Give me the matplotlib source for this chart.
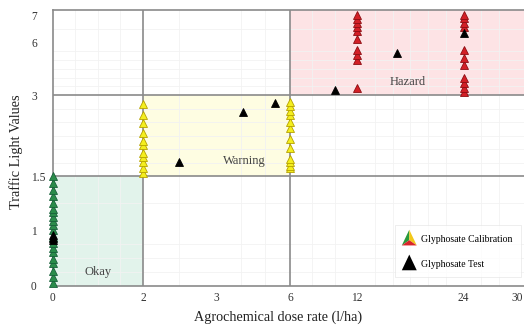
import numpy as np
import matplotlib
matplotlib.use("Agg")
import matplotlib.pyplot as plt
from matplotlib.legend_handler import HandlerBase
from matplotlib.patches import Polygon, Rectangle
from matplotlib.lines import Line2D
from matplotlib.ticker import FixedLocator, NullLocator

# ---- data -----------------------------------------------------------------
x_ticks = [0, 2, 3, 6, 12, 24, 30]
y_ticks = [0, 1, 1.5, 3, 6, 7]

# calibration readings (dose rate l/ha -> traffic light value)
okay_dose = 0
okay_values = [0.04, 0.15, 0.27, 0.40, 0.49, 0.60, 0.69, 0.78, 0.88, 1.00, 1.05,
               1.09, 1.12, 1.17, 1.20, 1.25, 1.32, 1.37, 1.44, 1.50]
warn_low_dose = 2
warn_low_values = [1.56, 1.65, 1.76, 1.85, 1.94, 2.08, 2.15, 2.31, 2.48, 2.63, 2.83]
warn_high_dose = 6
warn_high_values = [1.65, 1.70, 1.76, 1.83, 2.02, 2.20, 2.39, 2.50, 2.63, 2.70, 2.80, 2.87]
hazard_low_dose = 12
hazard_low_values = [3.40, 4.98, 5.26, 5.54, 6.11, 6.40, 6.55, 6.70, 6.85, 7.00]
hazard_high_dose = 24
hazard_high_values = [3.17, 3.40, 3.68, 3.96, 4.69, 5.09, 5.54, 6.55, 6.70, 6.90, 7.00]

# test readings
test_dose = [0, 0, 0, 2.5, 4.1, 5.4, 10, 16.5, 24]
test_values = [0.82, 0.87, 0.92, 1.76, 2.69, 2.85, 3.28, 5.37, 6.33]

# ---- piecewise axis scales --------------------------------------------------
X_KNOTS = np.array([-10, 0, 2, 3, 6, 12, 30, 40], float)
X_POS = np.array([-397, 53, 143, 216, 290, 357, 517, 605.9], float)
Y_KNOTS = np.array([-5, 0, 1, 1.5, 3, 6, 7, 10], float)
Y_POS = np.array([-275, 0, 55, 109, 190, 243, 270, 351], float)


def make_scale(knots, pos):
    def fwd(v):
        return np.interp(v, knots, pos)

    def inv(p):
        return np.interp(p, pos, knots)
    return fwd, inv


serif = "Liberation Serif"
plt.rcParams["font.family"] = serif

fig = plt.figure(figsize=(5.24, 3.27), dpi=100)
ax = fig.add_axes([0.1011, 0.1269, 0.899, 0.8425])
ax.set_xscale("function", functions=make_scale(X_KNOTS, X_POS))
ax.set_yscale("function", functions=make_scale(Y_KNOTS, Y_POS))
ax.set_xlim(0, 30.8)
ax.set_ylim(0, 7.19)

# traffic-light zones
ax.add_patch(Rectangle((0, 0), 2, 1.5, facecolor="#e2f3eb", edgecolor="none", zorder=0))
ax.add_patch(Rectangle((2, 1.5), 4, 1.5, facecolor="#fefde2", edgecolor="none", zorder=0))
ax.add_patch(Rectangle((6, 3), 30, 5, facecolor="#fde3e5", edgecolor="none", zorder=0))

# faint background grid
for xv in [0.5, 1, 1.5, 2.5, 4, 5, 8, 10, 14, 16, 18, 20, 22, 26, 28]:
    ax.axvline(xv, color="#f2f2f2", lw=0.6, zorder=0.5)
for yv in [0.25, 0.5, 0.75, 1.25, 1.75, 2, 2.25, 2.5, 2.75, 3.5, 4, 4.5, 5, 5.5, 6.5]:
    ax.axhline(yv, color="#f2f2f2", lw=0.6, zorder=0.5)

# zone boundaries
for xv in [2, 6]:
    ax.axvline(xv, color="#8a8a8a", lw=1.2, zorder=1)
for yv in [1.5, 3]:
    ax.axhline(yv, color="#8a8a8a", lw=1.2, zorder=1)

ms = 5.5
kw = dict(marker="^", linestyle="none", markersize=ms, markeredgewidth=0.6,
          clip_on=False, zorder=3)
ax.plot([okay_dose] * len(okay_values), okay_values,
        color="#2a8c4a", markeredgecolor="#17603a", **kw)
ax.plot([warn_low_dose] * len(warn_low_values), warn_low_values,
        color="#f4ee1e", markeredgecolor="#b5a100", **kw)
ax.plot([warn_high_dose] * len(warn_high_values), warn_high_values,
        color="#f4ee1e", markeredgecolor="#b5a100", **kw)
ax.plot([hazard_low_dose] * len(hazard_low_values), hazard_low_values,
        color="#d31f26", markeredgecolor="#8c0d12", **kw)
ax.plot([hazard_high_dose] * len(hazard_high_values), hazard_high_values,
        color="#d31f26", markeredgecolor="#8c0d12", **kw)
ax.plot(test_dose, test_values, color="black", markeredgecolor="black",
        **{**kw, "zorder": 4})

# zone names
zone_kw = dict(fontsize=9, color="#444444", ha="center", va="center", zorder=5)
ax.text(1.0, 0.24, "Okay", **zone_kw)
ax.text(4.16, 1.78, "Warning", **zone_kw)
ax.text(17.7, 3.73, "Hazard", **zone_kw)

# axes styling
for name in ["left", "bottom", "top", "right"]:
    ax.spines[name].set_color("#8a8a8a")
    ax.spines[name].set_linewidth(1.2)
ax.spines["right"].set_visible(False)

ax.xaxis.set_major_locator(FixedLocator(x_ticks))
ax.yaxis.set_major_locator(FixedLocator(y_ticks))
ax.xaxis.set_minor_locator(NullLocator())
ax.yaxis.set_minor_locator(NullLocator())
ax.set_xticklabels([str(v) for v in x_ticks])
ax.set_yticklabels([f"{v:g}" for v in y_ticks])
ax.tick_params(axis="x", length=0, pad=5, labelsize=8.3, labelcolor="#333333")
ax.tick_params(axis="y", length=0, pad=15.8, labelsize=8.3, labelcolor="#333333")
for lbl in ax.get_yticklabels():
    lbl.set_horizontalalignment("left")

ax.set_xlabel("Agrochemical dose rate (l/ha)", fontsize=10.2, color="#222222")
ax.set_ylabel("Traffic Light Values", fontsize=10.3, color="#222222")
ax.xaxis.set_label_coords((278 - 53) / 471, -(311 - 285.5) / 275.5)
ax.yaxis.set_label_coords(-(53 - 23) / 471, (285.5 - 152) / 275.5)


class TriColorHandler(HandlerBase):
    """Legend key: a triangle split into green, yellow and red parts."""

    def create_artists(self, legend, orig_handle, xdescent, ydescent,
                       width, height, fontsize, trans):
        cx = width / 2 - xdescent
        s = height * 1.5
        bot = -ydescent - height * 0.2
        left = (cx - s * 0.5, bot)
        right = (cx + s * 0.5, bot)
        top = (cx, bot + s * 1.05)
        c = ((left[0] + right[0] + top[0]) / 3, (left[1] + right[1] + top[1]) / 3)
        parts = [
            Polygon([left, top, c], closed=True, facecolor="#2a9a3c", edgecolor="none"),
            Polygon([top, right, c], closed=True, facecolor="#f2c81a", edgecolor="none"),
            Polygon([left, right, c], closed=True, facecolor="#d8262a", edgecolor="none"),
        ]
        for p in parts:
            p.set_transform(trans)
        return parts


class BlackTriHandler(HandlerBase):
    def create_artists(self, legend, orig_handle, xdescent, ydescent,
                       width, height, fontsize, trans):
        cx = width / 2 - xdescent
        s = height * 1.5
        bot = -ydescent - height * 0.2
        p = Polygon([(cx - s * 0.5, bot), (cx + s * 0.5, bot), (cx, bot + s * 1.05)],
                    closed=True, facecolor="black", edgecolor="none", transform=trans)
        return [p]


calib_handle = Rectangle((0, 0), 1, 1)
test_handle = Line2D([], [])
leg = ax.legend([calib_handle, test_handle],
                ["Glyphosate Calibration", "Glyphosate Test"],
                handler_map={Rectangle: TriColorHandler(), Line2D: BlackTriHandler()},
                loc="lower right", bbox_to_anchor=(1.004, 0.012),
                fontsize=7, frameon=True, fancybox=False,
                handlelength=1.2, handleheight=1.2, handletextpad=0.6,
                labelspacing=1.5, borderpad=0.9)
leg.get_frame().set_edgecolor("#e6e6e6")
leg.get_frame().set_linewidth(0.6)
leg.set_zorder(6)

fig.savefig("out.png", dpi=100)
